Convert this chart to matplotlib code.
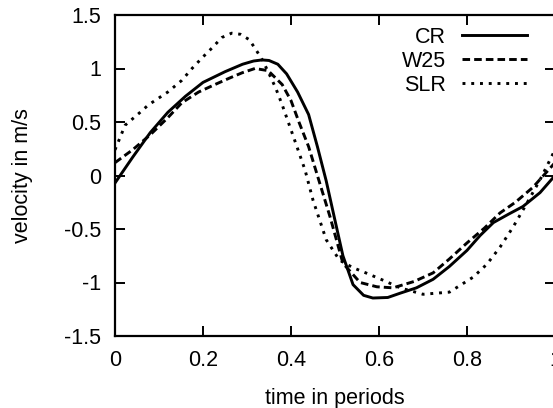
import matplotlib
matplotlib.use("Agg")
import matplotlib.pyplot as plt

plt.rcParams['font.family'] = ['Liberation Sans', 'DejaVu Sans']

# velocity over one period
t_cr = [0, 0.04, 0.08, 0.12, 0.16, 0.2, 0.25, 0.29, 0.315, 0.334, 0.35, 0.37,
        0.39, 0.415, 0.44, 0.46, 0.48, 0.5, 0.518, 0.541, 0.565, 0.586, 0.62,
        0.648, 0.685, 0.723, 0.76, 0.8, 0.83, 0.86, 0.895, 0.927, 0.966, 1.0]
v_cr = [-0.07, 0.17, 0.4, 0.59, 0.74, 0.87, 0.97, 1.04, 1.07, 1.08, 1.075, 1.04,
        0.95, 0.78, 0.57, 0.27, -0.05, -0.42, -0.75, -1.02, -1.12, -1.145, -1.14,
        -1.1, -1.05, -0.97, -0.85, -0.7, -0.56, -0.44, -0.36, -0.29, -0.16, 0.0]

t_w25 = [0, 0.04, 0.08, 0.12, 0.152, 0.19, 0.227, 0.26, 0.289, 0.318, 0.348,
         0.38, 0.4, 0.418, 0.44, 0.46, 0.489, 0.518, 0.557, 0.595, 0.632, 0.68,
         0.723, 0.76, 0.8, 0.84, 0.875, 0.91, 0.95, 1.0]
v_w25 = [0.12, 0.24, 0.38, 0.54, 0.68, 0.78, 0.85, 0.91, 0.96, 1.0, 0.98,
         0.85, 0.7, 0.5, 0.27, 0.0, -0.39, -0.82, -1.0, -1.04, -1.05, -0.99,
         -0.91, -0.78, -0.63, -0.49, -0.35, -0.25, -0.11, 0.12]

t_slr = [0, 0.023, 0.057, 0.076, 0.12, 0.152, 0.175, 0.198, 0.22, 0.243, 0.265,
         0.285, 0.305, 0.318, 0.335, 0.348, 0.365, 0.38, 0.41, 0.432, 0.45, 0.48,
         0.51, 0.54, 0.57, 0.61, 0.648, 0.7, 0.76, 0.814, 0.845, 0.875, 0.905,
         0.936, 0.966, 1.0]
v_slr = [0.24, 0.47, 0.59, 0.66, 0.78, 0.89, 1.0, 1.1, 1.19, 1.29, 1.33,
         1.32, 1.27, 1.19, 1.08, 0.97, 0.82, 0.66, 0.31, 0.05, -0.23, -0.6,
         -0.79, -0.86, -0.91, -0.98, -1.05, -1.11, -1.09, -0.95, -0.83, -0.67, -0.48,
         -0.26, -0.04, 0.24]

xticks = [0, 0.2, 0.4, 0.6, 0.8, 1]
xlabels = ['0', '0.2', '0.4', '0.6', '0.8', '1']
yticks = [-1.5, -1, -0.5, 0, 0.5, 1, 1.5]
ylabels = ['-1.5', '-1', '-0.5', '0', '0.5', '1', '1.5']

fs = 15.5

fig = plt.figure(figsize=(5.53, 4.08), dpi=100)
ax = fig.add_axes([115/553, 72/408, 440/553, 321/408])

lw = 2.1
ax.plot(t_cr, v_cr, color='black', lw=lw, label='CR')
ax.plot(t_w25, v_w25, color='black', lw=lw, dashes=(2.6, 1.4), label='W25')
ax.plot(t_slr, v_slr, color='black', lw=lw, dashes=(1.0, 2.0), label='SLR')

ax.set_xlim(0, 1)
ax.set_ylim(-1.5, 1.5)
ax.set_xticks(xticks)
ax.set_xticklabels(xlabels)
ax.set_yticks(yticks)
ax.set_yticklabels(ylabels)
ax.tick_params(direction='in', length=7.5, width=1.4, top=True, right=True,
               labelsize=fs)
ax.tick_params(axis='x', pad=10)
ax.tick_params(axis='y', pad=10)
for s in ax.spines.values():
    s.set_linewidth(1.6)

ax.set_xlabel('time in periods', fontsize=fs, labelpad=12)
ax.set_ylabel('velocity in m/s', fontsize=fs, labelpad=22)

ax.legend(loc='upper right', bbox_to_anchor=(527/553, 1 - 27/408),
          bbox_transform=fig.transFigure, frameon=False, markerfirst=False,
          handlelength=3.0, handletextpad=0.75, labelspacing=0.13,
          borderpad=0, borderaxespad=0, fontsize=fs)

fig.savefig('out.png', dpi=100)
